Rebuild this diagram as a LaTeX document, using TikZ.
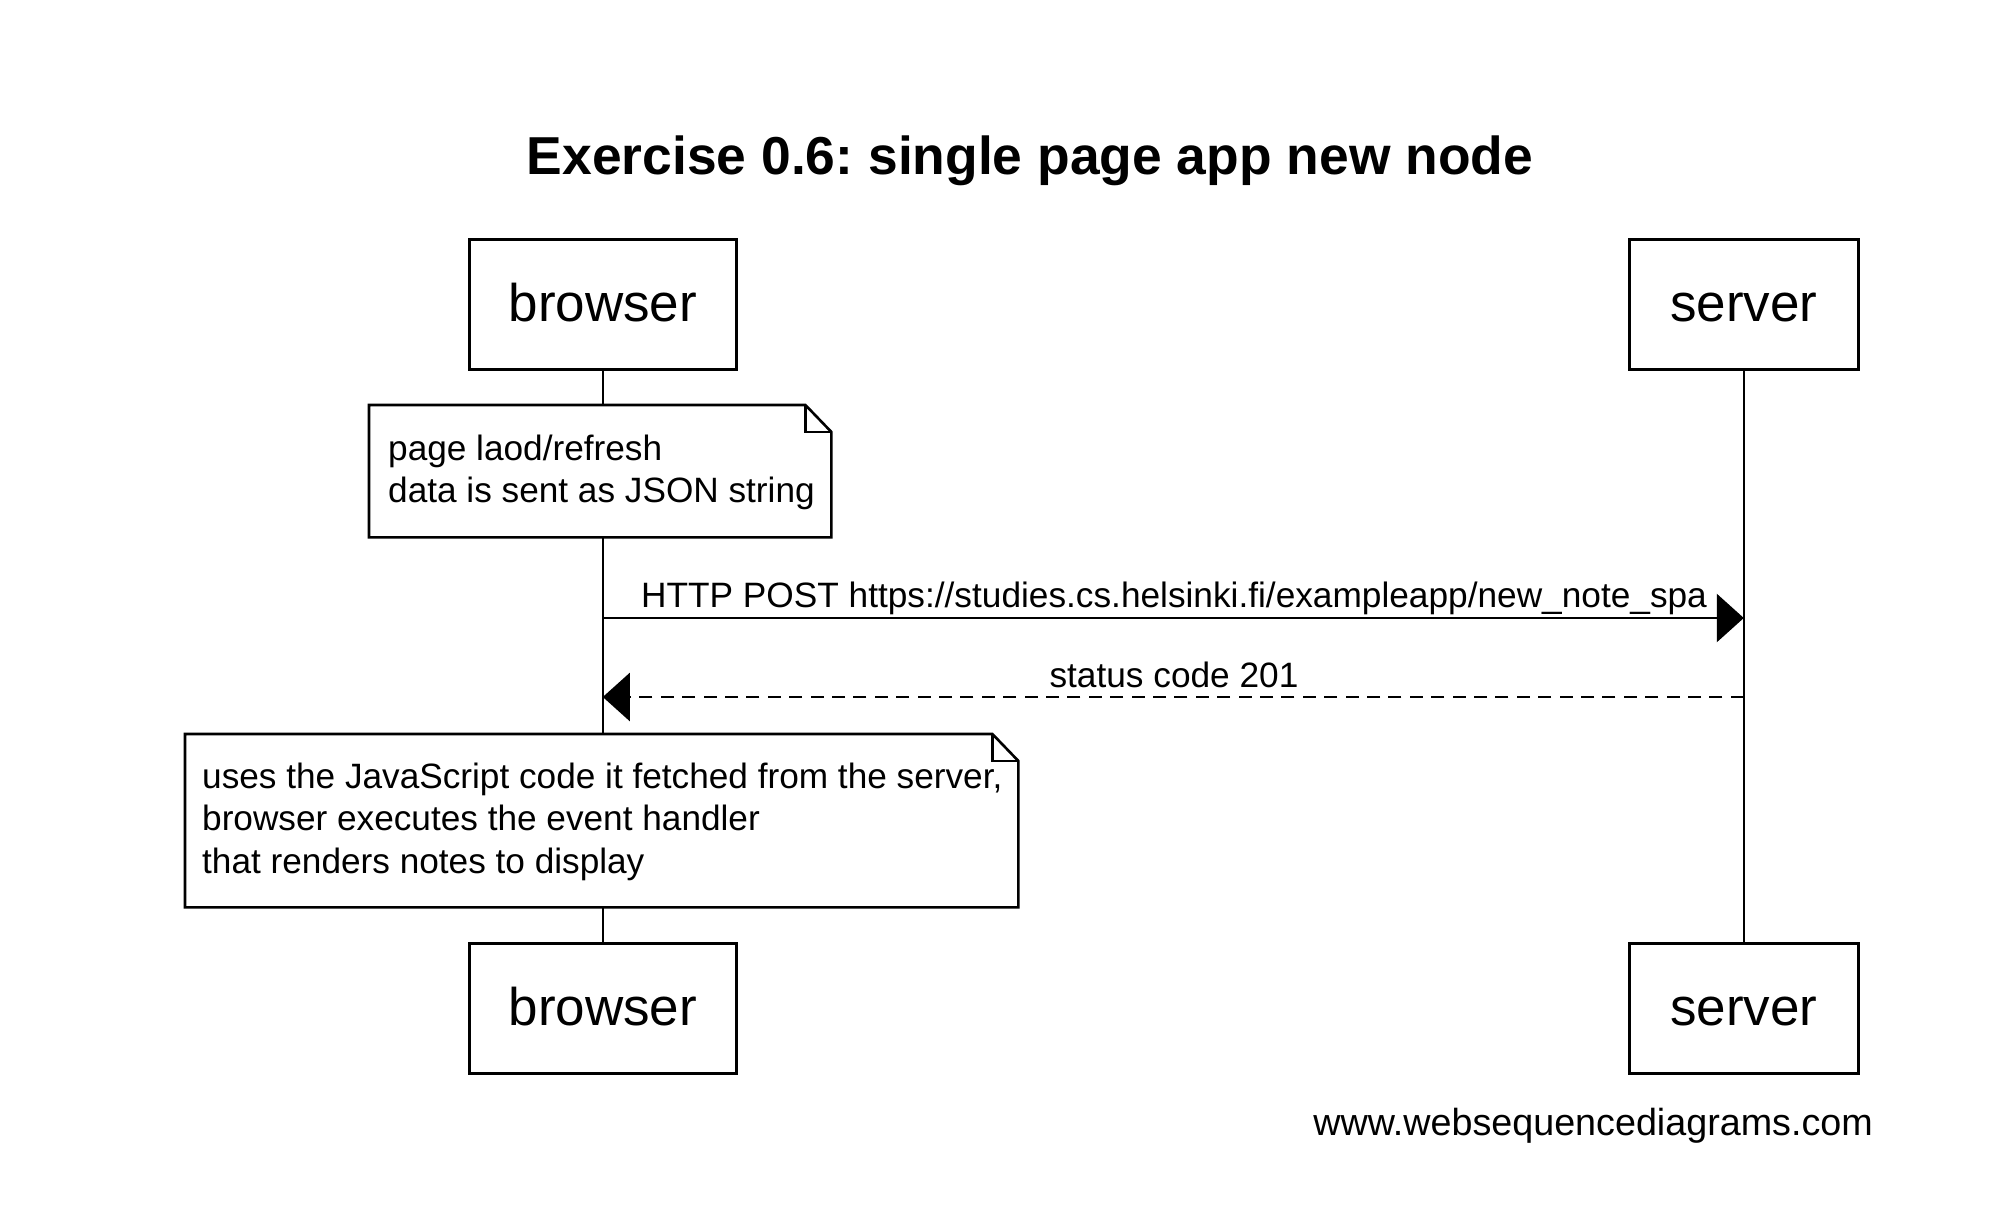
\documentclass[tikz,border=0pt]{standalone}
\usepackage{fontspec}
\setmainfont{Liberation Sans}
\usetikzlibrary{arrows.meta}
\frenchspacing

\begin{document}
\begin{tikzpicture}[x=1pt,y=-1pt,
  lw/.style={line width=2.6pt, draw=black},
  actor/.style={lw, rectangle, inner sep=0pt, minimum width=267pt, minimum height=130pt,
    font=\fontsize{53}{60}\selectfont},
  servbox/.style={actor, minimum width=229pt},
  notebody/.style={rectangle, inner sep=0pt, draw=none},
  notetext/.style={anchor=base west, inner sep=0pt, font=\fontsize{35.2}{43}\selectfont},
  msglabel/.style={anchor=base, inner sep=0pt, font=\fontsize{35.25}{43}\selectfont},
  msg/.style={lw, -{Triangle[length=27pt,width=48pt]}},
  reply/.style={msg, dash pattern=on 13pt off 8.4pt},
]
\useasboundingbox (0,0) rectangle (1994,1228);
\fill[white] (0,0) rectangle (1994,1228);

% title
\node[anchor=base, inner sep=0pt, font=\bfseries\fontsize{53.4}{60}\selectfont] (title)
  at (1030,175) {Exercise 0.6: single page app new node};

% participants, top and bottom
\node[actor, anchor=north west] (bt) at (468,238) {};
\node[actor, anchor=north west] (bb) at (468,942) {};
\node[servbox, anchor=north west] (st) at (1628,238) {};
\node[servbox, anchor=north west] (sb) at (1628,942) {};
\node[anchor=base, inner sep=0pt, font=\fontsize{53}{60}\selectfont] (btl) at ([yshift=-83pt]bt.north) {browser};
\node[anchor=base, inner sep=0pt, font=\fontsize{53}{60}\selectfont] (bbl) at ([yshift=-83pt]bb.north) {browser};
\node[anchor=base, inner sep=0pt, font=\fontsize{53}{60}\selectfont] (stl) at ([yshift=-83pt]st.north) {server};
\node[anchor=base, inner sep=0pt, font=\fontsize{53}{60}\selectfont] (sbl) at ([yshift=-83pt]sb.north) {server};

% notes on the browser lifeline
\node[notebody, minimum width=462pt, minimum height=132pt, anchor=north west] (note1) at (369,405) {};
\node[notebody, minimum width=833pt, minimum height=173pt, anchor=north west] (note2) at (185,734) {};

\foreach \n in {note1,note2}{
  \draw[lw, line join=miter] (\n.north west) -- ([xshift=-26pt]\n.north east)
    -- ([yshift=-27pt]\n.north east) -- (\n.south east) -- (\n.south west) -- cycle;
  \draw[lw] ([xshift=-26pt]\n.north east) |- ([yshift=-27pt]\n.north east);
}

\node[notetext] (n1a) at (388,460) {page laod/refresh};
\node[notetext] (n1b) at (388,502) {data is sent as JSON string};
\node[notetext] (n2a) at (202,788) {uses the JavaScript code it fetched from the server,};
\node[notetext] (n2b) at (202,830) {browser executes the event handler};
\node[notetext] (n2c) at (202,873) {that renders notes to display};

% lifelines
\draw[lw] (bt.south) -- (bt.south |- note1.north);
\draw[lw] (bt.south |- note1.south) -- (bt.south |- note2.north);
\draw[lw] (bt.south |- note2.south) -- (bb.north);
\draw[lw] (st.south) -- (sb.north);

% messages
\coordinate (m1) at (0,618);
\coordinate (m2) at (0,697);
\draw[msg] (bt.south |- m1) -- (st.south |- m1);
\draw[reply] (st.south |- m2) -- (bt.south |- m2);
\node[msglabel] (l1) at (1174,607) {HTTP POST https://studies.cs.helsinki.fi/exampleapp/new\_note\_spa};
\node[msglabel] (l2) at (1174,687) {status code 201};

% footer
\node[anchor=base east, inner sep=0pt, font=\fontsize{37.7}{44}\selectfont] (footer)
  at (1873,1135) {www.websequencediagrams.com};
\end{tikzpicture}
\end{document}
